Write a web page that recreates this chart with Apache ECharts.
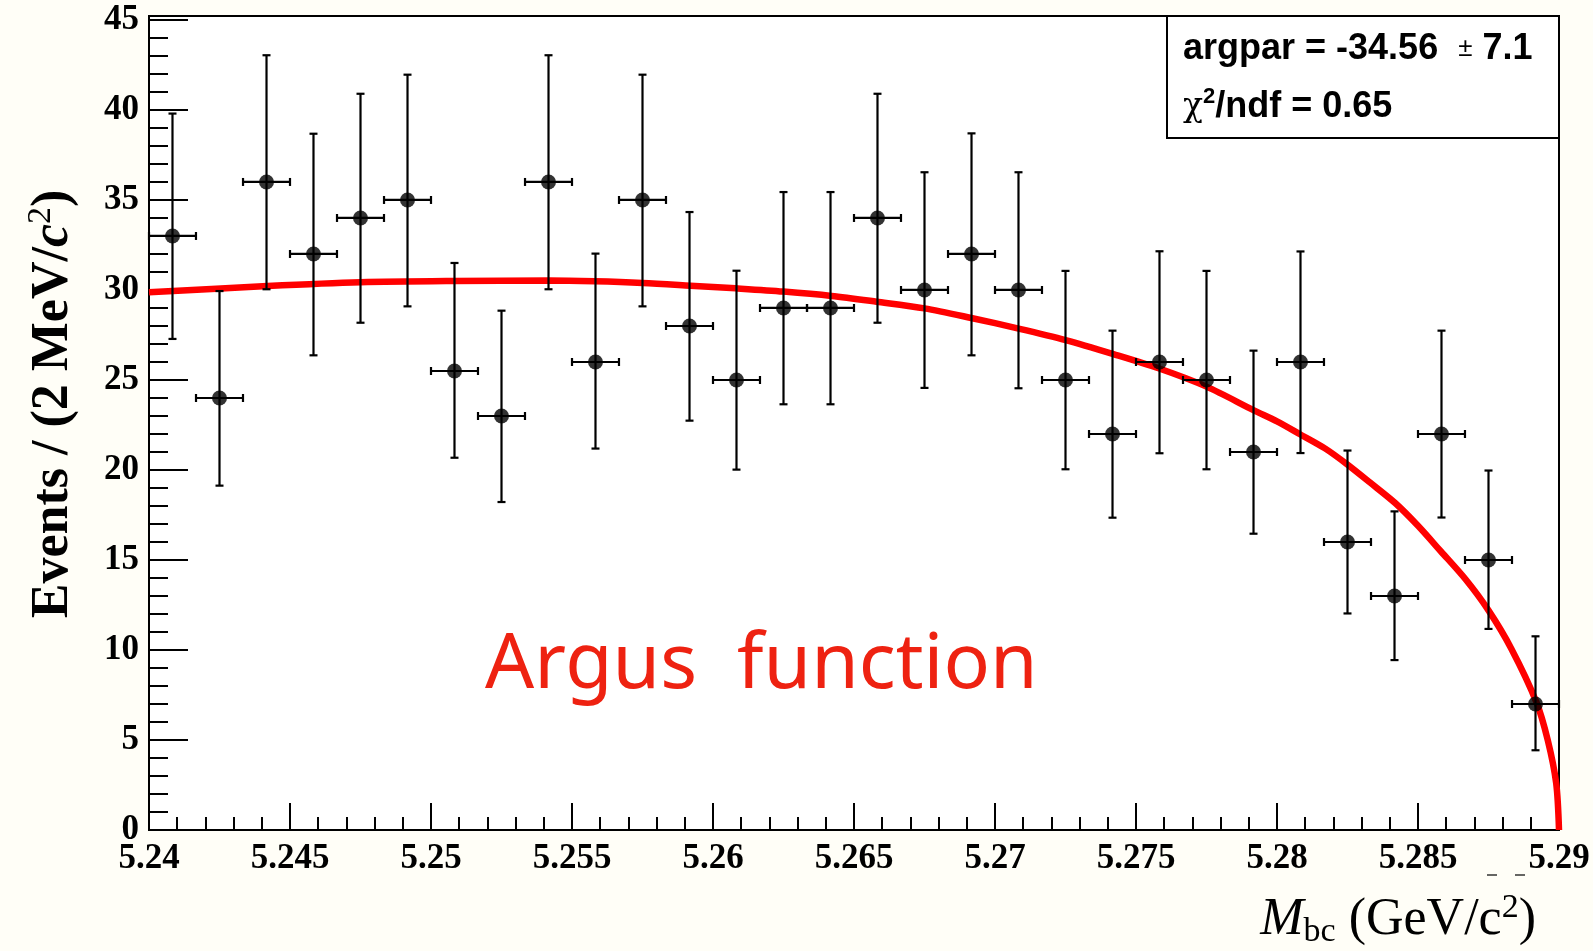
<!DOCTYPE html>
<html>
<head>
<meta charset="utf-8">
<title>Argus fit</title>
<script src="https://cdn.jsdelivr.net/npm/echarts@6/dist/echarts.min.js"></script>
<style>
	html, body { margin: 0; padding: 0; background: #fffef7; }
	#chart { width: 1593px; height: 951px; }
</style>
</head>
<body>
<div id="chart"></div>
<script>
// bin centres of the Mbc histogram (GeV/c^2)
var binCenters = [5.240833, 5.2425, 5.244167, 5.245833, 5.2475, 5.249167, 5.250833, 5.2525, 5.254167, 5.255833,
	5.2575, 5.259167, 5.260833, 5.2625, 5.264167, 5.265833, 5.2675, 5.269167, 5.270833, 5.2725,
	5.274167, 5.275833, 5.2775, 5.279167, 5.280833, 5.2825, 5.284167, 5.285833, 5.2875, 5.289167];
var binHalfWidth = 0.000833;
var events = [33, 24, 36, 32, 34, 35, 25.5, 23, 36, 26, 35, 28, 25, 29, 29, 34, 30, 32, 30, 25,
	22, 26, 25, 21, 26, 16, 13, 22, 15, 7];
var errHigh = [39.8, 29.94, 43.04, 38.68, 40.9, 41.96, 31.5, 28.85, 43.04, 32.02, 41.96, 34.33, 31.07, 35.44, 35.44,
	40.9, 36.54, 38.7, 36.54, 31.06, 27.74, 32.15, 31.06, 26.63, 32.14, 21.08, 17.7, 27.74, 19.97, 10.76];
var errLow = [27.28, 19.13, 30.04, 26.37, 28.18, 29.09, 20.68, 18.22, 30.04, 21.19, 29.09, 22.74, 20.02, 23.65, 23.65,
	28.18, 24.56, 26.37, 24.54, 20.04, 17.35, 20.93, 20.04, 16.46, 20.94, 12.03, 9.44, 17.36, 11.17, 4.43];

// fitted Argus curve
var fitX = [5.24, 5.2442, 5.2475, 5.2508, 5.2542, 5.2558, 5.2575, 5.2592, 5.2608, 5.2625, 5.2642, 5.2658,
	5.2675, 5.2692, 5.2708, 5.2725, 5.2742, 5.2758, 5.2775, 5.2792, 5.28, 5.2808, 5.2817, 5.2825, 5.2833,
	5.2842, 5.285, 5.2858, 5.2867, 5.2875, 5.2883, 5.2892, 5.2896, 5.2899, 5.29];
var fitY = [29.87, 30.22, 30.43, 30.5, 30.52, 30.48, 30.39, 30.24, 30.09, 29.91, 29.67, 29.35,
	28.98, 28.43, 27.87, 27.22, 26.44, 25.65, 24.63, 23.3, 22.7, 22.0, 21.2, 20.3, 19.3,
	18.15, 16.9, 15.5, 13.9, 12.2, 10.1, 7.1, 5.0, 2.6, 0];

var xMin = 5.24, xMax = 5.29, xStep = 0.005;
var yMin = 0, yMax = 45.22, yStep = 5;

var serif = 'Liberation Serif, Times New Roman, serif';
var sans = 'Liberation Sans, Arial, sans-serif';

var points = [];
for (var i = 0; i < binCenters.length; i++) {
	points.push([binCenters[i], events[i], errLow[i], errHigh[i]]);
}
var fitData = [];
for (var j = 0; j < fitX.length; j++) {
	fitData.push([fitX[j], fitY[j]]);
}

function renderErrorBar(params, api) {
	var x = api.value(0), y = api.value(1);
	var lo = api.coord([x, api.value(2)]);
	var hi = api.coord([x, api.value(3)]);
	var left = api.coord([x - binHalfWidth, y]);
	var right = api.coord([x + binHalfWidth, y]);
	var cap = 4;
	var st = { stroke: '#000', lineWidth: 2.2 };
	function seg(x1, y1, x2, y2) {
		return { type: 'line', shape: { x1: x1, y1: y1, x2: x2, y2: y2 }, style: st };
	}
	return {
		type: 'group',
		children: [
			seg(lo[0], lo[1], hi[0], hi[1]),
			seg(lo[0] - cap, lo[1], lo[0] + cap, lo[1]),
			seg(hi[0] - cap, hi[1], hi[0] + cap, hi[1]),
			seg(left[0], left[1], right[0], right[1]),
			seg(left[0], left[1] - cap, left[0], left[1] + cap),
			seg(right[0], right[1] - cap, right[0], right[1] + cap)
		]
	};
}

var chart = echarts.init(document.getElementById('chart'));
var option = {
	backgroundColor: '#fffef7',
	animation: false,
	grid: {
		left: 149, right: 34, top: 16, bottom: 121,
		show: true, backgroundColor: '#ffffff', borderColor: '#000', borderWidth: 2
	},
	xAxis: {
		type: 'value', min: xMin, max: xMax, interval: xStep,
		axisLine: { lineStyle: { color: '#000', width: 2 } },
		axisTick: { inside: true, length: 27, lineStyle: { color: '#000', width: 2 } },
		minorTick: { show: true, splitNumber: 5, length: 13, lineStyle: { color: '#000', width: 2 } },
		splitLine: { show: false },
		axisLabel: {
			margin: 11, color: '#000', fontFamily: serif, fontWeight: 'bold', fontSize: 35,
			formatter: function(v) { return String(+v.toFixed(3)); }
		}
	},
	yAxis: [{
		type: 'value', position: 'left', min: yMin, max: yMax, interval: yStep,
		axisLine: { lineStyle: { color: '#000', width: 2 } },
		axisTick: { inside: true, length: 39, lineStyle: { color: '#000', width: 2 } },
		splitLine: { show: false },
		axisLabel: {
			margin: 10, color: '#000', fontFamily: serif, fontWeight: 'bold', fontSize: 35,
			formatter: function(v) { return (Math.abs(v % yStep) < 1e-6) ? String(v) : ''; }
		}
	}, {
		// minor ticks every 1 event
		type: 'value', position: 'left', offset: 0, min: yMin, max: yMax, interval: 1,
		axisLine: { show: false },
		axisTick: { inside: true, length: 19, lineStyle: { color: '#000', width: 2 } },
		axisLabel: { show: false },
		splitLine: { show: false }
	}],
	series: [{
		type: 'line',
		data: fitData,
		smooth: 0.3,
		showSymbol: false,
		lineStyle: { color: '#ff0000', width: 6.5 },
		z: 3
	}, {
		type: 'custom',
		data: points,
		renderItem: renderErrorBar,
		z: 4
	}, {
		type: 'scatter',
		data: points,
		symbol: 'circle',
		symbolSize: 15,
		itemStyle: { color: '#000' },
		z: 5
	}],
	graphic: [{
		type: 'rect',
		shape: { x: 1167, y: 16, width: 392, height: 122 },
		style: { fill: '#fff', stroke: '#000', lineWidth: 2 },
		z: 10
	}, {
		type: 'text', x: 1183, y: 49, z: 11,
		style: {
			text: '{b|argpar = -34.56  }{r|±}{b| 7.1}',
			verticalAlign: 'middle',
			rich: {
				b: { fontFamily: sans, fontWeight: 'bold', fontSize: 36, fill: '#000' },
				r: { fontFamily: sans, fontSize: 26, fill: '#000' }
			}
		}
	}, {
		type: 'text', x: 1183, y: 107, z: 11,
		style: {
			text: '{g|χ}{s|2}{b|/ndf = 0.65}',
			verticalAlign: 'middle',
			rich: {
				g: { fontFamily: 'DejaVu Serif, serif', fontSize: 33, fill: '#000', lineHeight: 42 },
				s: { fontFamily: sans, fontWeight: 'bold', fontSize: 22, fill: '#000', verticalAlign: 'top', lineHeight: 26 },
				b: { fontFamily: sans, fontWeight: 'bold', fontSize: 36, fill: '#000', lineHeight: 42 }
			}
		}
	}, {
		type: 'text', x: 485, y: 666, z: 6,
		style: {
			text: 'Argus  function',
			fontFamily: 'Noto Sans, sans-serif', fontSize: 77, fill: '#ee2211',
			verticalAlign: 'middle'
		}
	}, {
		type: 'text', x: 54, y: 404, rotation: Math.PI / 2,
		style: {
			text: '{b|Events / (2 MeV/}{i|c}{s|2}{b|)}',
			align: 'center', verticalAlign: 'middle',
			rich: {
				b: { fontFamily: serif, fontWeight: 'bold', fontSize: 52, fill: '#000', lineHeight: 60 },
				i: { fontFamily: serif, fontWeight: 'bold', fontStyle: 'italic', fontSize: 52, fill: '#000', lineHeight: 60 },
				s: { fontFamily: serif, fontSize: 34, fill: '#000', verticalAlign: 'top', lineHeight: 34 }
			}
		}
	}, {
		type: 'text', x: 1536, y: 920,
		style: {
			text: '{i|M}{sub|bc}{r| (GeV/c}{s|2}{r|)}',
			align: 'right', verticalAlign: 'middle',
			rich: {
				i: { fontFamily: serif, fontStyle: 'italic', fontSize: 52, fill: '#000', lineHeight: 58 },
				sub: { fontFamily: serif, fontSize: 34, fill: '#000', verticalAlign: 'bottom', lineHeight: 34 },
				r: { fontFamily: serif, fontSize: 52, fill: '#000', lineHeight: 58 },
				s: { fontFamily: serif, fontSize: 34, fill: '#000', verticalAlign: 'top', lineHeight: 34 }
			}
		}
	}, {
		type: 'line', shape: { x1: 1487, y1: 875, x2: 1497, y2: 875 },
		style: { stroke: '#333', lineWidth: 1.5 }
	}, {
		type: 'line', shape: { x1: 1515, y1: 875, x2: 1525, y2: 875 },
		style: { stroke: '#333', lineWidth: 1.5 }
	}]
};
chart.setOption(option);
</script>
</body>
</html>
